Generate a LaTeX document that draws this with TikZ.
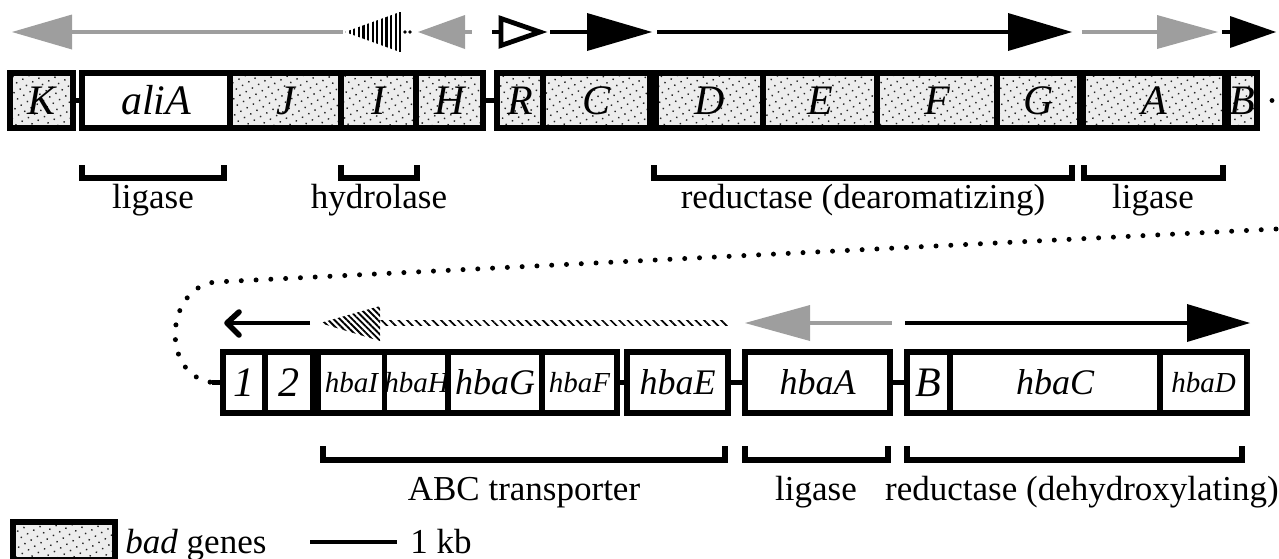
\documentclass[tikz,border=0pt]{standalone}
\usepackage{fontspec}
\setmainfont{Liberation Serif}
\usetikzlibrary{patterns.meta}

\newcommand\labfont{\fontsize{17.5}{20}\selectfont}
\newcommand\genefont{\fontsize{21}{24}\selectfont\itshape}
\newcommand\hbafont{\fontsize{18}{20}\selectfont\itshape}
\newcommand\hbasmall{\fontsize{14.5}{16}\selectfont\itshape}

\tikzset{
  gene/.style={draw, line width=2.6pt, inner sep=0pt, fill=white, font=\genefont},
  topgene/.style={gene, minimum height=27.5pt},
  botgene/.style={gene, minimum height=30.5pt},
  bad/.style={preaction={fill=black!7},
              pattern={Dots[distance=3.6pt, radius=0.5pt, angle=30]},
              pattern color=black!85},
  link/.style={line width=2.6pt},
  shaft/.style={line width=2.3pt},
  grayshaft/.style={line width=1.6pt, draw=black!38},
  graytip/.style={fill=black!38},
  bracket/.style={line width=2.6pt, line join=miter},
  label/.style={font=\labfont, anchor=base, inner sep=0pt},
  dotline/.style={line width=2.5pt, line cap=round, dash pattern=on 0pt off 7.4pt},
}

\begin{document}
\begin{tikzpicture}[x=0.5pt, y=-0.5pt]
\useasboundingbox (0,0) rectangle (1279,558);

% ---------------- upper cluster: gene boxes ----------------
\node[topgene, bad, minimum width=31.5pt] (K)    at (41.5,100.5)  {K};
\node[topgene,      minimum width=74pt]   (aliA) at (156,100.5)   {aliA};
\node[topgene, bad, minimum width=55.5pt] (J)    at (285.5,100.5) {J};
\node[topgene, bad, minimum width=37.5pt] (I)    at (378.5,100.5) {I};
\node[topgene, bad, minimum width=33.5pt] (H)    at (449.5,100.5) {H};
\node[topgene, bad, minimum width=23pt]   (R)    at (520,100.5)   {R};
\node[topgene, bad, minimum width=53.5pt] (C)    at (596.5,100.5) {C};
\node[topgene, bad, minimum width=53.5pt] (D)    at (709.5,100.5) {D};
\node[topgene, bad, minimum width=57pt]   (E)    at (820,100.5)   {E};
\node[topgene, bad, minimum width=60pt]   (F)    at (937,100.5)   {F};
\node[topgene, bad, minimum width=41.5pt] (G)    at (1038.5,100.5){G};
\node[topgene, bad, minimum width=71pt]   (A)    at (1154,100.5)  {A};
\node[topgene, bad, minimum width=14.5pt] (B)    at (1242.5,100.5){B};

\draw[link] (K) -- (aliA);
\draw[link] (H) -- (R);
\draw[link] (C) -- (D);
\draw[link] (G) -- (A);
\draw[link] (A) -- (B);
\fill (1272,100.5) circle (1.2pt);

% ---------------- upper cluster: transcription arrows ----------------
\draw[grayshaft] (72,32) -- (343,32);
\fill[graytip] (12,32) -- (72,14.5) -- (72,49.5) -- cycle;
\fill[pattern={Lines[angle=90, distance=2.3pt, line width=1.1pt]}]
  (345,32) -- (400,12) -- (400,52) -- cycle;
\draw[line width=1.3pt] (400,12) -- (400,52);
\fill (405,32) circle (0.9pt) (410,32) circle (0.9pt);
\fill[graytip] (418,32) -- (465,15) -- (465,49) -- cycle;
\draw[grayshaft] (465,32) -- (472,32);

\draw[shaft] (492,32) -- (501,32);
\draw[line width=2.4pt, line join=miter, fill=white]
  (501,18.5) -- (540,32) -- (501,45.5) -- cycle;
\draw[shaft] (550,32) -- (590,32);
\fill (587,13) -- (652,32) -- (587,51) -- cycle;
\draw[shaft] (657,32) -- (1010,32);
\fill (1008,13) -- (1072,32) -- (1008,51) -- cycle;
\draw[grayshaft] (1082,32) -- (1158,32);
\fill[graytip] (1157,15) -- (1218,32) -- (1157,49) -- cycle;
\draw[shaft] (1222,32) -- (1232,32);
\fill (1230,16) -- (1276,32) -- (1230,48) -- cycle;

% ---------------- upper cluster: functional groups ----------------
\draw[bracket] (82,165) -- (82,178) -- (224,178) -- (224,165);
\draw[bracket] (341,165) -- (341,178) -- (417,178) -- (417,165);
\draw[bracket] (654,165) -- (654,178) -- (1072,178) -- (1072,165);
\draw[bracket] (1084,165) -- (1084,178) -- (1223,178) -- (1223,165);
\node[label] (lig1) at (153,208)  {ligase};
\node[label] (hyd)  at (379,208)  {hydrolase};
\node[label] (red1) at (863,208)  {reductase (dearomatizing)};
\node[label] (lig2) at (1153,208) {ligase};

% ---------------- lower cluster: gene boxes ----------------
\node[botgene, minimum width=21pt]   (b1)   at (244,382.5)    {1};
\node[botgene, minimum width=24pt]   (b2)   at (289,382.5)    {2};
\node[botgene, minimum width=33.5pt, font=\hbasmall] (hbaI) at (351.5,382.5) {hbaI};
\node[botgene, minimum width=31.5pt, font=\hbasmall] (hbaH) at (416.5,382.5) {hbaH};
\node[botgene, minimum width=47pt,   font=\hbafont]  (hbaG) at (495,382.5)   {hbaG};
\node[botgene, minimum width=37.5pt, font=\hbasmall] (hbaF) at (579.5,382.5) {hbaF};
\node[botgene, minimum width=50.5pt, font=\hbafont]  (hbaE) at (677.5,382.5) {hbaE};
\node[botgene, minimum width=72.5pt, font=\hbafont]  (hbaA) at (817.5,382.5) {hbaA};
\node[botgene, minimum width=21.5pt] (hbaB) at (928.5,382.5)  {B};
\node[botgene, minimum width=105pt,  font=\hbafont]  (hbaC) at (1055,382.5)  {hbaC};
\node[botgene, minimum width=43.5pt, font=\hbasmall] (hbaD) at (1203.5,382.5){hbaD};

\draw[link] (b2) -- (hbaI);
\draw[link] (hbaF) -- (hbaE);
\draw[link] (hbaE) -- (hbaA);
\draw[link] (hbaA) -- (hbaB);
\coordinate (loopend) at (212,382.5);
\draw[link] (b1.west) -- (loopend);

% continuation of the upper cluster into the lower one
\draw[dotline] (1276,229) -- (215,282)
  .. controls (165,288) and (160,375) .. (loopend);

% ---------------- lower cluster: transcription arrows ----------------
\draw[shaft] (310,323) -- (228,323);
\draw[line width=2.8pt, line cap=round, line join=round]
  (239,312) -- (227,323) -- (239,335);
\fill[pattern={Lines[angle=-45, distance=2.2pt, line width=0.95pt]}]
  (320,323) -- (380,306) -- (380,341) -- cycle;
\fill[pattern={Lines[angle=-45, distance=3pt, line width=0.85pt]}]
  (380,320.5) rectangle (728,325.5);
\fill[graytip] (745,323) -- (810,305) -- (810,341) -- cycle;
\draw[grayshaft] (810,323) -- (892,323);
\draw[shaft] (905,323) -- (1190,323);
\fill (1187,304) -- (1250,323) -- (1187,342) -- cycle;

% ---------------- lower cluster: functional groups ----------------
\draw[bracket] (323,446) -- (323,460) -- (725,460) -- (725,446);
\draw[bracket] (745,446) -- (745,460) -- (888,460) -- (888,446);
\draw[bracket] (907,446) -- (907,460) -- (1242,460) -- (1242,446);
\node[label] (abc)  at (524,500)  {ABC transporter};
\node[label] (lig3) at (816,500)  {ligase};
\node[label] (red2) at (1082,500) {reductase (dehydroxylating)};

% ---------------- legend ----------------
\node[draw, line width=2.6pt, bad, inner sep=0pt,
      minimum width=51pt, minimum height=19pt] (legbox) at (64,541) {};
\node[label, anchor=base west] (legtext) at (125,553) {\textit{bad} genes};
\coordinate (barL) at (310,542);
\coordinate (barR) at (397,542);
\draw[line width=2.2pt] (barL) -- (barR);
\node[label, anchor=base west] (kb) at (410,553) {1 kb};
\end{tikzpicture}
\end{document}
